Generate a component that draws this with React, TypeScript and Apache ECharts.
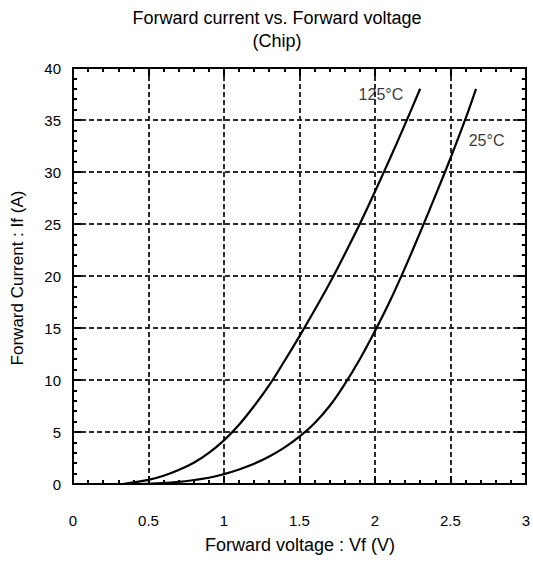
import React, { useEffect, useRef } from "react";
import * as echarts from "echarts";

const titleLines = ["Forward current vs. Forward voltage", "(Chip)"];
const xName = "Forward voltage : Vf (V)";
const yName = "Forward Current : If (A)";

const v125 = [0.33, 0.5, 0.6, 0.7, 0.8, 0.9, 1.0, 1.1, 1.2, 1.3, 1.4, 1.5, 1.6, 1.7, 1.8, 1.9, 2.0, 2.1, 2.2, 2.3];
const i125 = [0, 0.4, 0.8, 1.35, 2.05, 3.0, 4.2, 5.7, 7.5, 9.5, 11.8, 14.2, 16.7, 19.3, 22.1, 25.0, 28.1, 31.3, 34.6, 38.0];

const v25 = [0.45, 0.7, 0.9, 1.0, 1.1, 1.2, 1.3, 1.4, 1.5, 1.6, 1.7, 1.8, 1.9, 2.0, 2.1, 2.2, 2.3, 2.4, 2.5, 2.6, 2.67];
const i25 = [0, 0.2, 0.6, 0.95, 1.4, 1.95, 2.65, 3.5, 4.55, 5.85, 7.5, 9.6, 12.0, 14.7, 17.6, 20.8, 24.2, 27.7, 31.3, 35.1, 38.0];

const labels = [
  { text: "125°C", v: 2.04, i: 37.5 },
  { text: "25°C", v: 2.74, i: 33.0 },
];

const FONT = "'Liberation Sans', Arial, sans-serif";

export default function App() {
  const ref = useRef<HTMLDivElement>(null);
  useEffect(() => {
    if (!ref.current) return;
    const chart = echarts.init(ref.current, null, { renderer: "svg" });
    const grid = { left: 73, right: 4, top: 68, bottom: 90 };
    const axisCommon = {
      type: "value" as const,
      axisLine: { show: true, onZero: false, lineStyle: { color: "#000", width: 2 } },
      axisTick: { show: true, inside: true, length: 8, lineStyle: { color: "#000", width: 2 } },
      minorTick: { show: true, splitNumber: 5, length: 4, lineStyle: { color: "#000", width: 2 } },
      splitLine: { show: false },
    };
    const grayDash = { color: "#2a2a2a", type: [5, 3] as any, width: 2 };
    chart.setOption({
      animation: false,
      backgroundColor: "#fff",
      textStyle: { fontFamily: FONT },
      grid,
      graphic: [
        {
          type: "text",
          x: 277,
          y: 18,
          style: { text: titleLines[0], align: "center", verticalAlign: "middle", font: `18px ${FONT}`, fill: "#000" },
        },
        {
          type: "text",
          x: 277,
          y: 41,
          style: { text: titleLines[1], align: "center", verticalAlign: "middle", font: `18px ${FONT}`, fill: "#000" },
        },
        {
          type: "text",
          x: 300,
          y: 545,
          style: { text: xName, align: "center", verticalAlign: "middle", font: `18px ${FONT}`, fill: "#000" },
        },
        {
          type: "text",
          x: 17,
          y: 278,
          rotation: Math.PI / 2,
          style: { text: yName, align: "center", verticalAlign: "middle", font: `17px ${FONT}`, fill: "#000" },
        },
      ],
      xAxis: [
        {
          ...axisCommon,
          position: "bottom",
          min: 0,
          max: 3,
          interval: 0.5,
          axisLabel: { color: "#000", fontSize: 15, margin: 29, fontFamily: FONT },
          splitLine: { show: true, lineStyle: grayDash },
        },
        {
          ...axisCommon,
          position: "top",
          min: 0,
          max: 3,
          interval: 0.5,
          axisLabel: { show: false },
        },
      ],
      yAxis: [
        {
          ...axisCommon,
          position: "left",
          min: 0,
          max: 40,
          interval: 5,
          axisLabel: { color: "#000", fontSize: 15, margin: 12, fontFamily: FONT },
          splitLine: { show: true, lineStyle: grayDash },
        },
        {
          ...axisCommon,
          position: "right",
          min: 0,
          max: 40,
          interval: 5,
          axisLabel: { show: false },
        },
      ],
      series: [
        {
          type: "line",
          data: v125.map((v, k) => [v, i125[k]]),
          smooth: 0.4,
          showSymbol: false,
          lineStyle: { color: "#000", width: 2.2 },
          z: 5,
        },
        {
          type: "line",
          data: v25.map((v, k) => [v, i25[k]]),
          smooth: 0.4,
          showSymbol: false,
          lineStyle: { color: "#000", width: 2.2 },
          z: 5,
        },
        {
          type: "scatter",
          data: labels.map((l) => [l.v, l.i]),
          symbolSize: 0,
          label: {
            show: true,
            position: "inside",
            formatter: (p: any) => labels[p.dataIndex].text,
            color: "#000",
            textBorderWidth: 0,
            fontSize: 16,
            fontFamily: FONT,
          },
          z: 6,
        },
      ],
    });
    return () => chart.dispose();
  }, []);
  return <div ref={ref} style={{ position: "absolute", left: 0, top: 0, width: 533, height: 574 }} />;
}
